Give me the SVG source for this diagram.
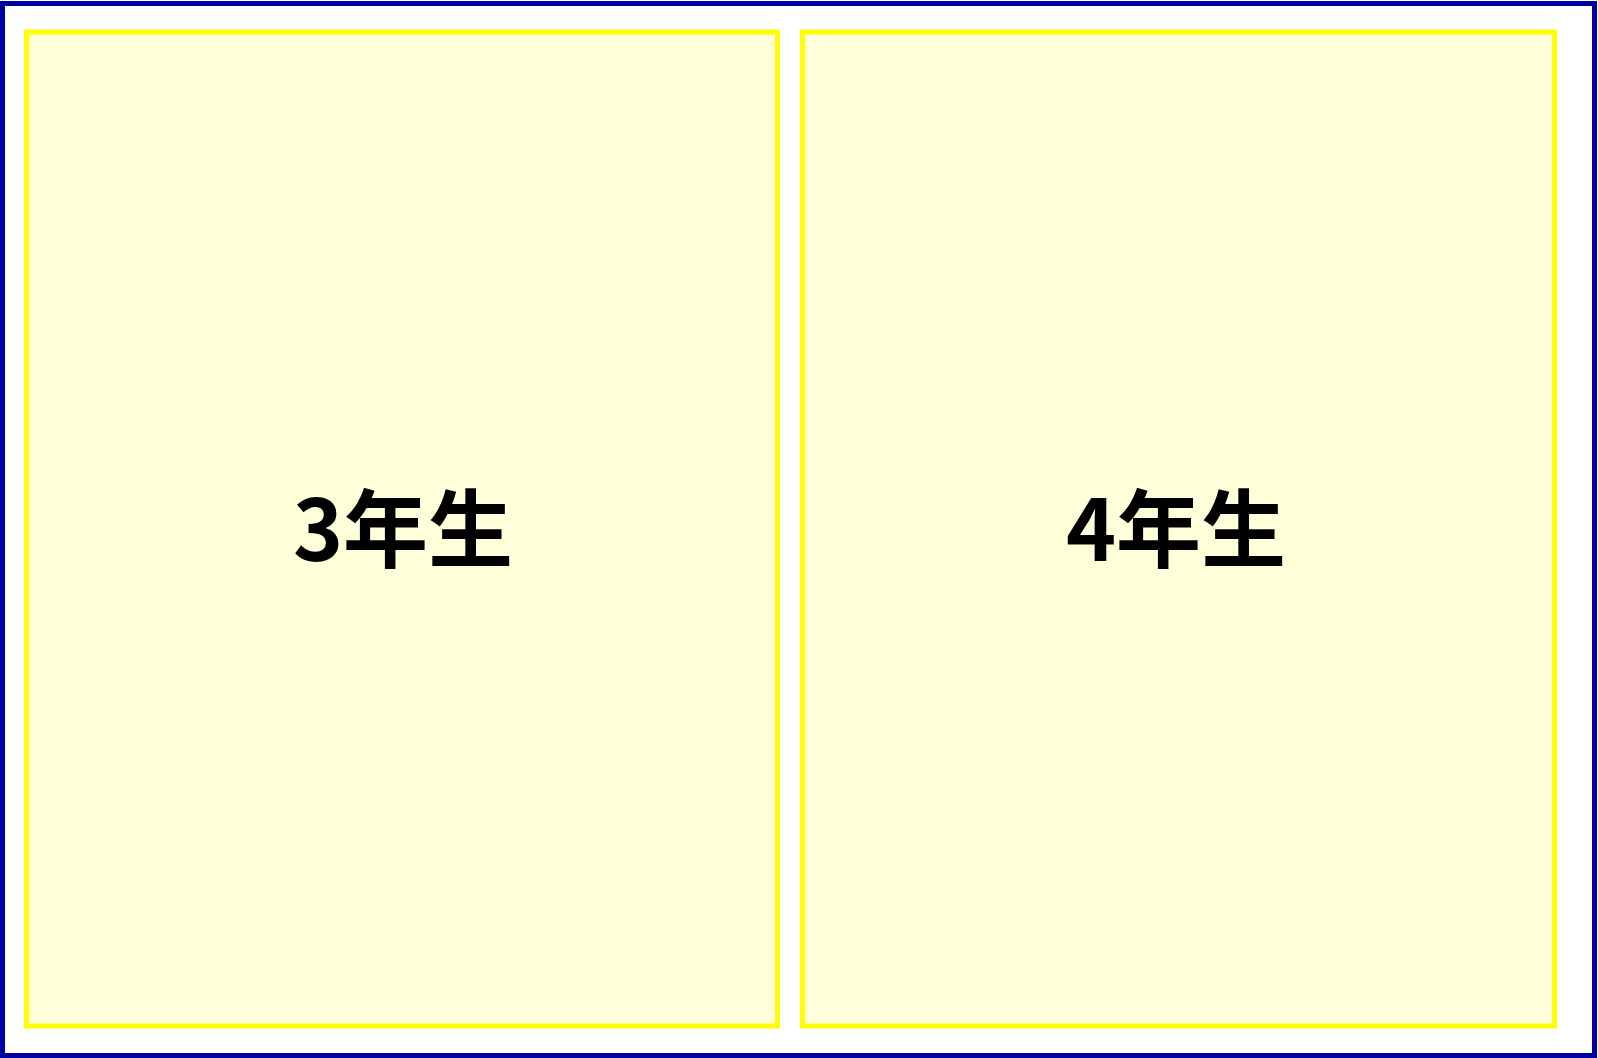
<svg xmlns="http://www.w3.org/2000/svg" width="1598" height="1058" viewBox="0 0 1598 1058">
<style>
.panel{fill:#FFFFD9;stroke:#FFFF00;stroke-width:5}
.lbl{font-family:"Noto Sans CJK JP","Noto Sans",sans-serif;font-weight:bold;font-size:85px;fill:#000;text-anchor:middle}
</style>
<rect x="2.5" y="3.5" width="1592" height="1052" fill="#FFFFFF" stroke="#0000A0" stroke-width="5"/>
<g id="grade3">
<rect class="panel" x="26.5" y="32" width="751" height="994"/>
<text class="lbl" x="403" y="561">3年生</text>
</g>
<g id="grade4">
<rect class="panel" x="802.5" y="32" width="752" height="994"/>
<text class="lbl" x="1176" y="561">4年生</text>
</g>
<g id="connectors"></g>
</svg>
